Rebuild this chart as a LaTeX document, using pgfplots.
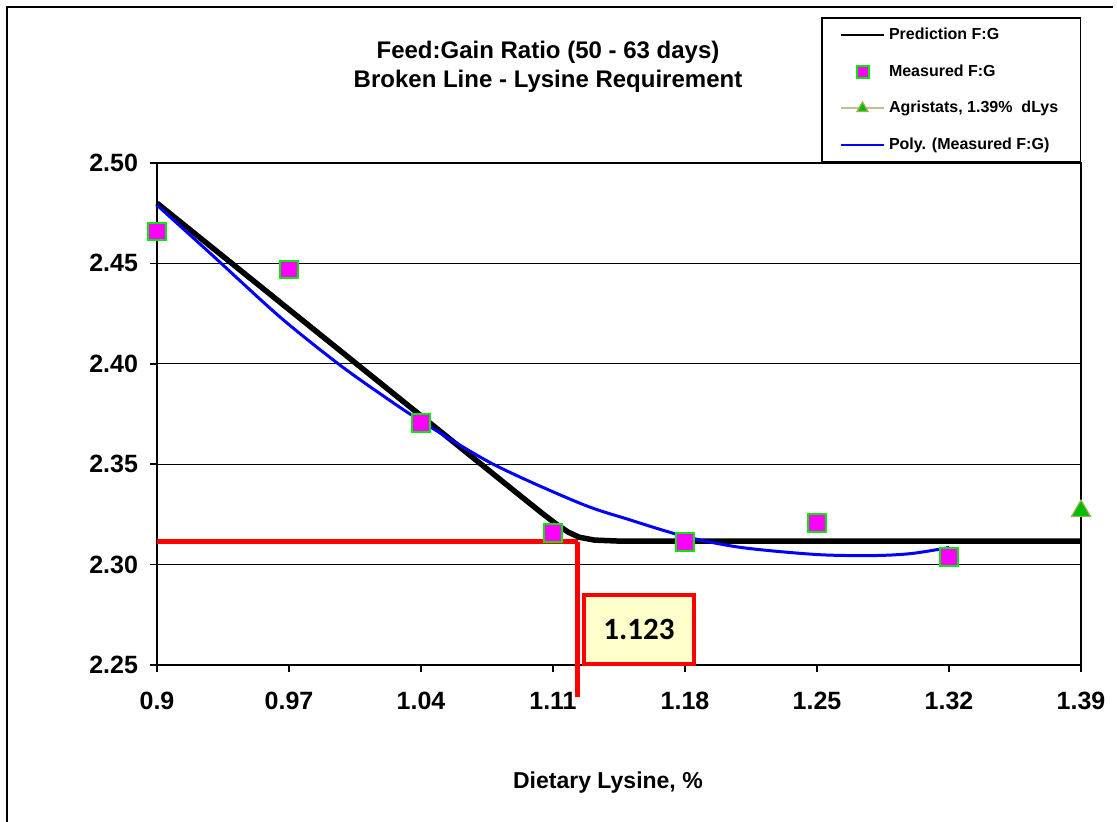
\documentclass[border=0pt]{standalone}
\usepackage{pgfplots}
\pgfplotsset{compat=1.18}
\usepackage{fontspec}
\setmainfont{Liberation Sans}
\newfontfamily\calibrilike{Carlito}

\definecolor{fgmagenta}{RGB}{255,0,255}
\definecolor{fggreen}{RGB}{0,235,0}
\definecolor{agrifill}{RGB}{0,190,0}
\definecolor{agriedge}{RGB}{160,175,95}
\definecolor{agriline}{RGB}{196,189,151}
\definecolor{boxfill}{RGB}{255,255,204}

\begin{document}
\begin{tikzpicture}
\path[use as bounding box] (0pt,0pt) rectangle (558.5pt,411pt);
% frame of the chart area
\draw[line width=1pt] (3.5pt,0pt) -- (3.5pt,407.5pt) -- (556.5pt,407.5pt);

\begin{axis}[
  at={(78.5pt,78.5pt)}, anchor=south west,
  scale only axis, width=462pt, height=251pt,
  xmin=0.9, xmax=1.39, ymin=2.25, ymax=2.50,
  clip=false,
  axis line style={line width=1pt},
  xtick={0.9,0.97,1.04,1.11,1.18,1.25,1.32,1.39},
  xticklabels={0.9,0.97,1.04,1.11,1.18,1.25,1.32,1.39},
  ytick={2.25,2.30,2.35,2.40,2.45,2.50},
  /pgf/number format/assume math mode=true,
  tick label style={font=\bfseries\fontsize{12.5}{14}\selectfont},
  xticklabel style={yshift=-6.5pt},
  yticklabel style={xshift=-2.5pt,
                    /pgf/number format/fixed,
                    /pgf/number format/fixed zerofill,
                    /pgf/number format/precision=2},
  tick align=outside, major tick length=3.5pt,
  tick style={black, line width=0.75pt},
  xtick pos=bottom, ytick pos=left,
  ymajorgrids, grid style={black, line width=0.6pt},
  xlabel={Dietary Lysine, \%},
  xlabel style={at={(axis description cs:0.488,0)}, anchor=center, yshift=-59pt,
                font=\bfseries\fontsize{11.5}{14}\selectfont},
  legend image code/.code={\draw[mark repeat=2,mark phase=2,#1]
      plot coordinates {(0pt,0pt) (10.75pt,0pt) (21.5pt,0pt)};},
  legend cell align=left,
  legend style={at={(1,1)}, anchor=south east, draw=black, line width=0.75pt,
                fill=white, font=\bfseries\fontsize{8}{9.6}\selectfont,
                inner xsep=9pt, inner ysep=3pt, row sep=7pt},
]

% breakpoint guide lines
\addplot[red, line width=2.5pt, forget plot] coordinates {(0.9,2.3113) (1.123,2.3113)};
\addplot[red, line width=2.5pt, forget plot] coordinates {(1.123,2.3113) (1.123,2.234)};

% broken-line prediction
\addplot[black, line width=2.75pt, line join=round,
         legend image post style={line width=0.75pt}] coordinates {
  (0.900,2.4800) (1.095,2.3325) (1.105,2.3250) (1.112,2.3200) (1.118,2.3162)
  (1.124,2.3136) (1.132,2.3122) (1.145,2.3117) (1.390,2.3117)
};
\addlegendentry{Prediction F:G}

% measured feed:gain
\addplot[only marks, mark=square*, mark size=4.3pt,
         mark options={fill=fgmagenta, draw=fggreen, line width=1pt},
         legend image post style={mark size=3pt}] coordinates {
  (0.90,2.4660) (0.97,2.4470) (1.04,2.3705) (1.11,2.3157)
  (1.18,2.3113) (1.25,2.3207) (1.32,2.3038)
};
\addlegendentry{Measured F:G}

% Agristats reference
\addplot[draw=agriline, line width=1pt, mark=triangle*, mark size=5.5pt,
         mark options={fill=agrifill, draw=agriedge, line width=0.6pt, solid},
         legend image post style={mark size=3.2pt}] coordinates {
  (1.39,2.3267)
};
\addlegendentry{Agristats, 1.39\%\ \ dLys}

% polynomial trend of the measured values
\addplot[blue, line width=1.5pt, smooth, tension=0.5,
         legend image post style={line width=1pt}] coordinates {
  (0.900,2.4790) (0.930,2.4535) (0.9652,2.4233) (0.9961,2.4000) (1.020,2.3840)
  (1.040,2.3715) (1.0783,2.3500) (1.1244,2.3305) (1.150,2.3225) (1.180,2.3140)
  (1.210,2.3085) (1.250,2.3050) (1.280,2.3045) (1.300,2.3055) (1.320,2.3085)
};
\addlegendentry{Poly. (Measured F:G)}

% breakpoint value
\node[draw=red, line width=2pt, fill=boxfill, minimum width=55pt, minimum height=34.5pt,
      inner sep=0pt, font=\calibrilike\bfseries\fontsize{15.5}{18}\selectfont]
  at (axis cs:1.1556,2.2677) {1.123};
\end{axis}

\node[align=center, font=\bfseries\fontsize{12}{14.5}\selectfont]
  at (274pt,377.75pt) {Feed:Gain Ratio (50 - 63 days)\\Broken Line - Lysine Requirement};
\end{tikzpicture}
\end{document}
